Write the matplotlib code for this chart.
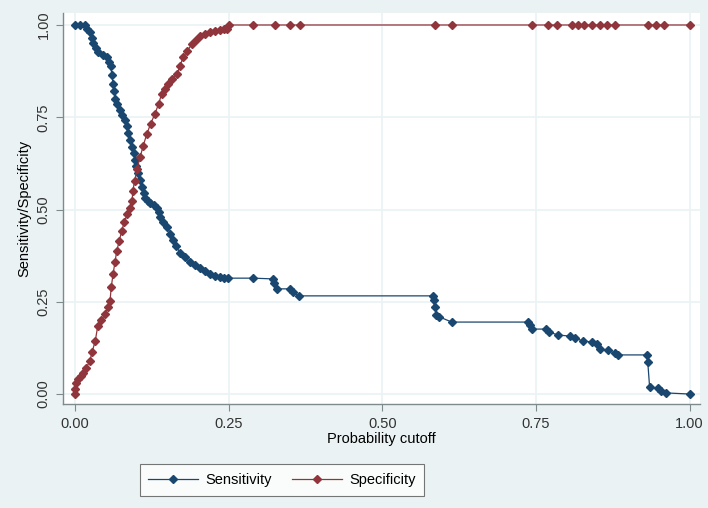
import matplotlib
matplotlib.use('Agg')
from matplotlib import pyplot as plt
import numpy as np

plt.rcParams['font.family'] = ['Liberation Sans', 'DejaVu Sans']

# 민감도 (cutoff, sensitivity)
sens_cut = [0.000, 0.008, 0.016, 0.020, 0.024, 0.027, 0.030, 0.034, 0.037, 0.045,
            0.052, 0.056, 0.058, 0.060, 0.062, 0.064, 0.065, 0.069, 0.073, 0.077,
            0.081, 0.084, 0.086, 0.090, 0.093, 0.096, 0.098, 0.100, 0.102, 0.106,
            0.109, 0.112, 0.114, 0.118, 0.122, 0.128, 0.133, 0.136, 0.138, 0.144,
            0.150, 0.155, 0.159, 0.165, 0.171, 0.179, 0.187, 0.195, 0.203, 0.211,
            0.220, 0.228, 0.236, 0.243, 0.249, 0.290, 0.322, 0.324, 0.329, 0.350,
            0.354, 0.364, 0.582, 0.584, 0.585, 0.588, 0.593, 0.613, 0.737, 0.740,
            0.744, 0.767, 0.771, 0.786, 0.805, 0.813, 0.826, 0.841, 0.849, 0.854,
            0.867, 0.878, 0.883, 0.930, 0.932, 0.935, 0.948, 0.954, 0.962, 1.000]
sens = [1.000, 1.000, 1.000, 0.990, 0.980, 0.965, 0.950, 0.938, 0.927, 0.920,
        0.913, 0.900, 0.890, 0.865, 0.840, 0.820, 0.800, 0.785, 0.770, 0.756,
        0.742, 0.725, 0.707, 0.688, 0.670, 0.652, 0.634, 0.617, 0.599, 0.580,
        0.561, 0.545, 0.530, 0.522, 0.518, 0.512, 0.505, 0.492, 0.480, 0.466,
        0.453, 0.435, 0.417, 0.400, 0.382, 0.370, 0.358, 0.349, 0.341, 0.333,
        0.325, 0.320, 0.317, 0.315, 0.314, 0.314, 0.312, 0.300, 0.285, 0.285,
        0.276, 0.266, 0.266, 0.255, 0.236, 0.214, 0.209, 0.195, 0.195, 0.187,
        0.176, 0.176, 0.168, 0.160, 0.157, 0.152, 0.144, 0.141, 0.136, 0.122,
        0.119, 0.111, 0.106, 0.106, 0.087, 0.019, 0.016, 0.008, 0.003, 0.000]

# 특이도 (cutoff, specificity)
spec_cut = [0.000, 0.000, 0.001, 0.005, 0.009, 0.013, 0.018, 0.024, 0.028, 0.033,
            0.037, 0.043, 0.049, 0.053, 0.057, 0.059, 0.062, 0.065, 0.068, 0.072,
            0.076, 0.080, 0.085, 0.089, 0.093, 0.094, 0.097, 0.101, 0.106, 0.111,
            0.117, 0.123, 0.130, 0.136, 0.141, 0.146, 0.151, 0.158, 0.166, 0.171,
            0.176, 0.183, 0.190, 0.197, 0.203, 0.211, 0.220, 0.228, 0.236, 0.242,
            0.247, 0.250, 0.290, 0.325, 0.350, 0.366, 0.585, 0.613, 0.743, 0.769,
            0.785, 0.808, 0.818, 0.829, 0.842, 0.854, 0.865, 0.878, 0.932, 0.946,
            0.959, 1.000]
spec = [0.000, 0.015, 0.030, 0.040, 0.048, 0.057, 0.070, 0.089, 0.115, 0.144,
        0.184, 0.200, 0.217, 0.235, 0.252, 0.290, 0.325, 0.357, 0.388, 0.415,
        0.442, 0.465, 0.488, 0.505, 0.523, 0.550, 0.577, 0.610, 0.642, 0.673,
        0.705, 0.732, 0.759, 0.786, 0.813, 0.827, 0.840, 0.853, 0.867, 0.890,
        0.913, 0.930, 0.948, 0.960, 0.970, 0.976, 0.981, 0.984, 0.986, 0.988,
        0.990, 1.000, 1.000, 1.000, 1.000, 1.000, 1.000, 1.000, 1.000, 1.000,
        1.000, 1.000, 1.000, 1.000, 1.000, 1.000, 1.000, 1.000, 1.000, 1.000,
        1.000, 1.000]

ticks = [0.0, 0.25, 0.5, 0.75, 1.0]
tick_labels = ['0.00', '0.25', '0.50', '0.75', '1.00']

bg = '#eaf2f3'
navy = '#1a476f'
maroon = '#90353b'

fig = plt.figure(figsize=(7.08, 5.08), dpi=100, facecolor=bg)
ax = fig.add_axes([63/708, 1 - 404/508, (700-63)/708, (404-13)/508])
ax.set_facecolor('white')

ax.plot(sens_cut, sens, color=navy, lw=0.9, marker='D', ms=4, label='Sensitivity', zorder=3)
ax.plot(spec_cut, spec, color=maroon, lw=0.9, marker='D', ms=4, label='Specificity', zorder=3)

ax.set_xlim(-0.0195, 1.017)
ax.set_ylim(-0.027, 1.0325)
ax.set_xticks(ticks)
ax.set_xticklabels(tick_labels)
ax.set_yticks(ticks)
ax.set_yticklabels(tick_labels, rotation=90, va='center')
ax.grid(True, color=bg, lw=1.2, zorder=0)

for s in ['top', 'right']:
    ax.spines[s].set_visible(False)
for s in ['left', 'bottom']:
    ax.spines[s].set_color('#7f8a8d')
    ax.spines[s].set_linewidth(1.0)
ax.tick_params(colors='#333333', labelsize=10.5, length=5, width=0.8, direction='out', pad=4)
ax.tick_params(axis='both', color='#7f8a8d')

ax.set_xlabel('Probability cutoff', fontsize=10.5, labelpad=1)
ax.set_ylabel('Sensitivity/Specificity', fontsize=10.5, labelpad=4)

leg = fig.legend(loc='center', bbox_to_anchor=(282/708, 1 - 480/508), ncol=2,
                 fontsize=10.5, frameon=True, fancybox=False, numpoints=1,
                 handlelength=3.4, handletextpad=0.5, columnspacing=1.4,
                 borderpad=0.6)
leg.get_frame().set_edgecolor('#555555')
leg.get_frame().set_facecolor('white')
leg.get_frame().set_linewidth(0.8)

plt.savefig('out.png', dpi=100, facecolor=bg)
